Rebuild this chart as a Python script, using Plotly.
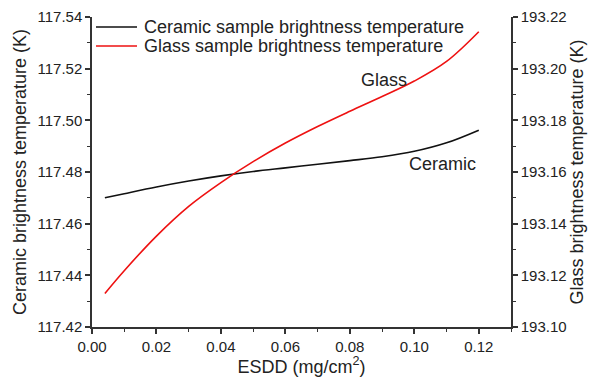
import plotly.graph_objects as go

esdd = [0.004, 0.01, 0.02, 0.03, 0.04, 0.05, 0.06, 0.07, 0.08, 0.09, 0.10, 0.11, 0.12]
ceramic_bt = [117.4700, 117.4716, 117.4742, 117.4765, 117.4785, 117.4802, 117.4816,
              117.4830, 117.4844, 117.4859, 117.4880, 117.4913, 117.4962]
glass_bt = [193.1130, 193.1218, 193.1352, 193.1467, 193.1559, 193.1640, 193.1712,
            193.1776, 193.1835, 193.1892, 193.1952, 193.2028, 193.2143]

left_ticks = [117.42, 117.44, 117.46, 117.48, 117.50, 117.52, 117.54]
right_ticks = [193.10, 193.12, 193.14, 193.16, 193.18, 193.20, 193.22]
x_ticks = [0.00, 0.02, 0.04, 0.06, 0.08, 0.10, 0.12]

series_names = ["Ceramic sample brightness temperature", "Glass sample brightness temperature"]
series_colors = ["#111111", "#ee1111"]

FONT = "Liberation Sans, Arial, sans-serif"
AX = "#333333"
TXT = "#222222"

fig = go.Figure()
fig.add_trace(go.Scatter(x=esdd, y=ceramic_bt, mode="lines",
                         line=dict(color=series_colors[0], width=1.6, shape="spline"),
                         name=series_names[0], yaxis="y", showlegend=False))
fig.add_trace(go.Scatter(x=esdd, y=glass_bt, mode="lines",
                         line=dict(color=series_colors[1], width=1.6, shape="spline"),
                         name=series_names[1], yaxis="y2", showlegend=False))

axcommon = dict(showline=True, linecolor=AX, linewidth=1.5, ticks="outside", ticklen=5, tickwidth=1.5,
                tickcolor=AX, showgrid=False, zeroline=False, automargin=False,
                tickfont=dict(size=15, color=TXT, family=FONT))

# manual legend (top-left inside plot area)
legend_rows_y = [0.9677, 0.9065]
shapes = []
annotations = []
for name, color, ly in zip(series_names, series_colors, legend_rows_y):
    shapes.append(dict(type="line", xref="paper", yref="paper", x0=0.0095, x1=0.1074, y0=ly, y1=ly,
                       line=dict(color=color, width=1.6)))
    annotations.append(dict(x=0.1193, y=ly, xref="paper", yref="paper", text=name, showarrow=False,
                            xanchor="left", yanchor="middle", font=dict(size=18, family=FONT, color=TXT)))

annotations += [
    dict(x=0.0905, y=117.5155, xref="x", yref="y", text="Glass", showarrow=False,
         font=dict(size=18, family=FONT, color=TXT)),
    dict(x=0.1089, y=117.4830, xref="x", yref="y", text="Ceramic", showarrow=False,
         font=dict(size=18, family=FONT, color=TXT)),
]

fig.update_layout(
    width=589, height=377,
    margin=dict(l=92, r=78, t=17, b=50),
    paper_bgcolor="white", plot_bgcolor="white",
    font=dict(family=FONT, color=TXT),
    xaxis=dict(range=[0, 0.13], tickvals=x_ticks, tickformat=".2f",
               minor=dict(ticks="outside", ticklen=3, tickwidth=1.2, tickcolor=AX, dtick=0.01, tick0=0),
               title=dict(text="ESDD (mg/cm<sup>2</sup>)", font=dict(size=18, family=FONT), standoff=5),
               **axcommon),
    yaxis=dict(range=[117.42, 117.54], tickvals=left_ticks, tickformat=".2f",
               minor=dict(ticks="outside", ticklen=3, tickwidth=1.2, tickcolor=AX, dtick=0.01, tick0=117.42),
               title=dict(text="Ceramic brightness temperature (K)", font=dict(size=18, family=FONT), standoff=6),
               **axcommon),
    yaxis2=dict(range=[193.10, 193.22], tickvals=right_ticks, tickformat=".2f", overlaying="y", side="right",
                minor=dict(ticks="outside", ticklen=3, tickwidth=1.2, tickcolor=AX, dtick=0.01, tick0=193.10),
                title=dict(text="Glass brightness temperature (K)", font=dict(size=18, family=FONT), standoff=4),
                **axcommon),
    showlegend=False,
    shapes=shapes,
    annotations=annotations,
)

fig.write_html("out.html")
